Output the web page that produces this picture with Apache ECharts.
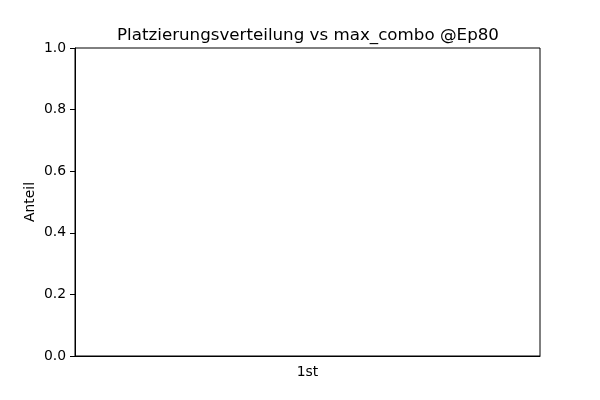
<!DOCTYPE html>
<html>
<head>
<meta charset="utf-8">
<script src="https://cdn.jsdelivr.net/npm/echarts@6/dist/echarts.min.js"></script>
<style>html,body{margin:0;padding:0;background:#fff}#c{width:600px;height:400px}</style>
</head>
<body>
<div id="c"></div>
<script>
const categories = ['1st'];
const values = [0];
const yTicks = [0, 0.2, 0.4, 0.6, 0.8, 1.0];
const titleText = 'Platzierungsverteilung vs max_combo @Ep80';
const yLabel = 'Anteil';

const chart = echarts.init(document.getElementById('c'), null, {renderer: 'canvas'});
const font = 'DejaVu Sans';
chart.setOption({
  animation: false,
  backgroundColor: '#fff',
  title: {
    text: titleText, left: 303, textAlign: 'center', top: 22,
    textStyle: {fontFamily: font, fontSize: 16.7, fontWeight: 'normal', color: '#000'}
  },
  grid: {left: 75, right: 60, top: 48, bottom: 44, show: true, borderColor: '#000', borderWidth: 1, backgroundColor: 'transparent'},
  xAxis: {
    type: 'category', data: categories, boundaryGap: true,
    axisLine: {lineStyle: {color: '#000', width: 1}},
    axisTick: {alignWithLabel: true, length: 5, lineStyle: {color: '#000'}},
    axisLabel: {fontFamily: font, fontSize: 13.9, color: '#000', margin: 9},
    splitLine: {show: false}
  },
  yAxis: {
    type: 'value', min: 0, max: 1, interval: 0.2,
    name: yLabel, nameLocation: 'middle', nameGap: 38, nameRotate: 90, nameMoveOverlap: false,
    nameTextStyle: {fontFamily: font, fontSize: 13.9, color: '#000'},
    axisLine: {show: true, lineStyle: {color: '#000', width: 1}},
    axisTick: {show: true, length: 5, lineStyle: {color: '#000'}},
    axisLabel: {fontFamily: font, fontSize: 13.9, color: '#000', margin: 9,
      formatter: v => { const t = yTicks.find(x => Math.abs(x - v) < 1e-9); return (t !== undefined ? t : v).toFixed(1); }},
    splitLine: {show: false}
  },
  series: [{type: 'bar', data: values, itemStyle: {color: '#1f77b4'}, barWidth: '80%'}]
});
</script>
</body>
</html>
